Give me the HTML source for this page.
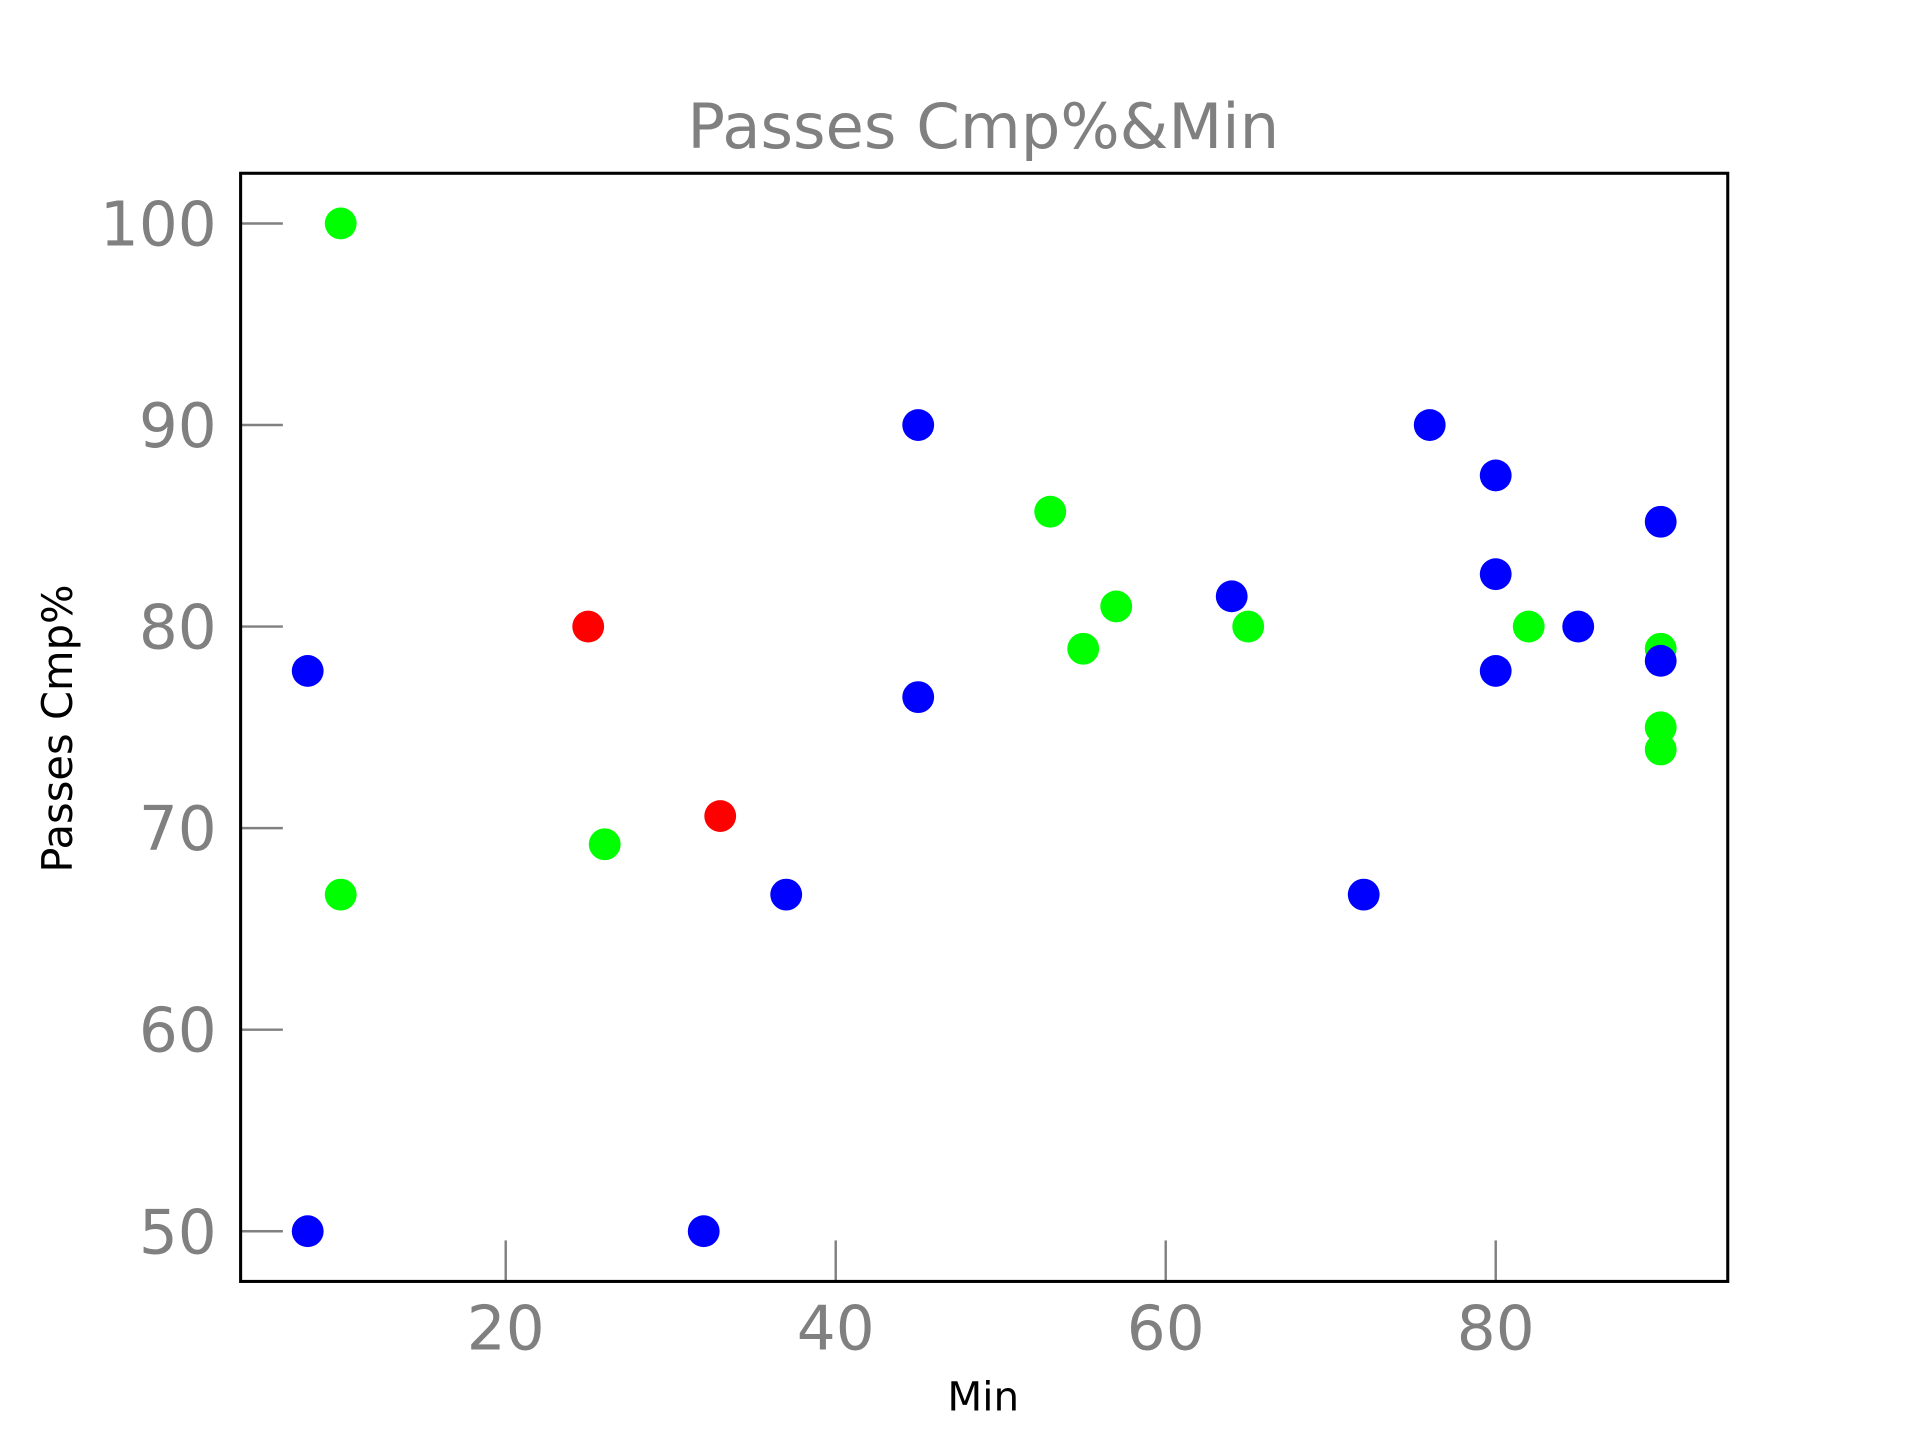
<!DOCTYPE html>
<html><head><meta charset="utf-8"><style>
html,body{margin:0;padding:0;background:#fff;}
svg{display:block;font-family:"DejaVu Sans","Liberation Sans",sans-serif;}
</style></head><body>
<svg id="chart" width="1920" height="1440" viewBox="0 0 1568 1176" xmlns="http://www.w3.org/2000/svg">
<rect width="1568" height="1176" fill="#fff"/>
<text x="803" y="121" font-size="51" fill="#808080" text-anchor="middle">Passes Cmp%&amp;Min</text>
<g id="ticks"></g>
<g id="marks"></g>
<rect x="196.5" y="141.5" width="1214.5" height="905" fill="none" stroke="#000" stroke-width="2.5"/>
<text x="803" y="1152" font-size="33" fill="#000" text-anchor="middle">Min</text>
<text transform="translate(59,595) rotate(-90)" font-size="34" fill="#000" text-anchor="middle">Passes Cmp%</text>
</svg>
<script>
const xTicks = [20, 40, 60, 80];
const yTicks = [50, 60, 70, 80, 90, 100];
const blueX = [8, 8, 32, 37, 45, 45, 64, 72, 76, 80, 80, 80, 85, 90, 90];
const blueY = [50, 77.8, 50, 66.7, 90, 76.5, 81.5, 66.7, 90, 87.5, 82.6, 77.8, 80, 85.2, 78.3];
const greenX = [10, 10, 26, 53, 55, 57, 65, 82, 90, 90, 90];
const greenY = [100, 66.7, 69.2, 85.7, 78.9, 81, 80, 80, 78.9, 75, 73.9];
const redX = [25, 33];
const redY = [80, 70.6];

const NS = 'http://www.w3.org/2000/svg';
function sx(v){ return 413 + (v - 20) * 13.475; }
function sy(v){ return 182.5 + (100 - v) * 16.46; }
const tg = document.getElementById('ticks');
xTicks.forEach(t => {
  const l = document.createElementNS(NS, 'line');
  
  
  l.setAttribute('x1', sx(t)); l.setAttribute('x2', sx(t));
  l.setAttribute('y1', 1047); l.setAttribute('y2', 1013);
  l.setAttribute('stroke', '#808080'); l.setAttribute('stroke-width', 2);
  tg.appendChild(l);
  const tx = document.createElementNS(NS, 'text');
  
  
  tx.setAttribute('x', sx(t)); tx.setAttribute('y', 1102);
  tx.setAttribute('font-size', 50); tx.setAttribute('fill', '#808080');
  tx.setAttribute('text-anchor', 'middle');
  tx.textContent = t;
  tg.appendChild(tx);
});
yTicks.forEach(t => {
  const l = document.createElementNS(NS, 'line');
  
  
  l.setAttribute('x1', 196); l.setAttribute('x2', 231);
  l.setAttribute('y1', sy(t)); l.setAttribute('y2', sy(t));
  l.setAttribute('stroke', '#808080'); l.setAttribute('stroke-width', 2);
  tg.appendChild(l);
  const tx = document.createElementNS(NS, 'text');
  
  
  tx.setAttribute('x', 177); tx.setAttribute('y', sy(t) + 18);
  tx.setAttribute('font-size', 50); tx.setAttribute('fill', '#808080');
  tx.setAttribute('text-anchor', 'end');
  tx.textContent = t;
  tg.appendChild(tx);
});
const mg = document.getElementById('marks');
function drawSeries(xs, ys, color, name){
  xs.forEach((x, i) => {
    const c = document.createElementNS(NS, 'circle');
    
    
    c.setAttribute('cx', sx(x)); c.setAttribute('cy', sy(ys[i]));
    c.setAttribute('r', 13); c.setAttribute('fill', color);
    mg.appendChild(c);
  });
}
drawSeries(greenX, greenY, '#00ff00', 'green-point');
drawSeries(redX, redY, '#ff0000', 'red-point');
drawSeries(blueX, blueY, '#0000ff', 'blue-point');
</script>
</body></html>
